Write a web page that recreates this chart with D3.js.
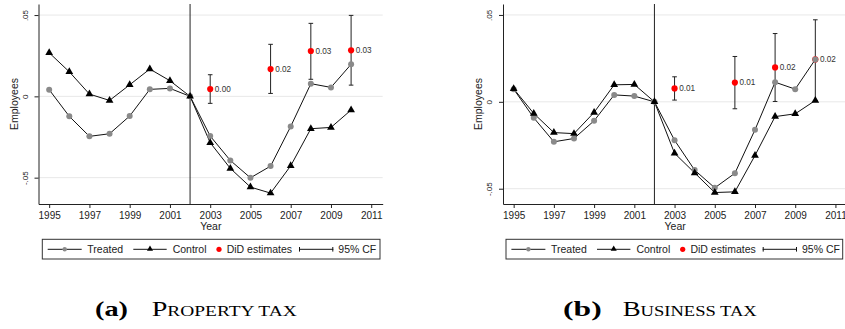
<!DOCTYPE html>
<html>
<head>
<meta charset="utf-8">
<script src="https://cdn.jsdelivr.net/npm/d3@7/dist/d3.min.js"></script>
<style>
  html, body { margin: 0; padding: 0; background: #fff; }
  svg { display: block; }
  text { font-family: "Liberation Sans", Arial, Helvetica, sans-serif; }
</style>
</head>
<body>
<svg id="chart" width="845" height="329"></svg>
<script>
// ---------------- DATA ----------------
const years = [1995, 1996, 1997, 1998, 1999, 2000, 2001, 2002, 2003, 2004, 2005, 2006, 2007, 2008, 2009, 2010];

// Panel (a) Property tax
const propTreated = [0.0041, -0.0123, -0.0246, -0.0230, -0.0121, 0.0043, 0.0049, 0, -0.0244, -0.0394, -0.0501, -0.0429, -0.0185, 0.0078, 0.0055, 0.0197];
const propControl = [0.0268, 0.0151, 0.0014, -0.0025, 0.0071, 0.0168, 0.0096, 0, -0.0285, -0.0443, -0.0558, -0.0595, -0.0427, -0.0199, -0.0191, -0.0084];

// Panel (b) Business tax
const busTreated = [0.0073, -0.0092, -0.0230, -0.0211, -0.0109, 0.0040, 0.0033, 0, -0.0221, -0.0393, -0.0495, -0.0411, -0.0161, 0.0113, 0.0073, 0.0244];
const busControl = [0.0075, -0.0067, -0.0177, -0.0183, -0.0061, 0.0098, 0.0100, 0, -0.0296, -0.0409, -0.0522, -0.0518, -0.0309, -0.0085, -0.0069, 0.0008];

// DiD estimates with 95% confidence bounds
const didYears = [2003, 2006, 2008, 2010];
const propDid = [0.0045, 0.0168, 0.0279, 0.0283];
const propLo = [-0.0043, 0.0018, 0.0105, 0.0069];
const propHi = [0.0133, 0.0320, 0.0449, 0.0498];
const propLabels = ["0.00", "0.02", "0.03", "0.03"];
const busDid = [0.0077, 0.0111, 0.0198, 0.0244];
const busLo = [0.0010, -0.0040, 0.0002, 0.0006];
const busHi = [0.0144, 0.0261, 0.0393, 0.0472];
const busLabels = ["0.01", "0.01", "0.02", "0.02"];

const treatmentYear = 2002;
const xTicks = [1995, 1997, 1999, 2001, 2003, 2005, 2007, 2009, 2011];
const yTicks = [-0.05, 0, 0.05];
const yTickLabels = ["-.05", "0", ".05"];
const legendLabels = ["Treated", "Control", "DiD estimates", "95% CF"];
const captionTags = ["(a)", "(b)"];
const captionTitles = [["P", "ROPERTY ", "TAX"], ["B", "USINESS ", "TAX"]];
const yTitle = "Employees";
const xTitle = "Year";

// ---------------- LAYOUT ----------------
const svg = d3.select("#chart");
const panels = [
  { treated: propTreated, control: propControl, did: propDid, lo: propLo, hi: propHi, labels: propLabels,
    x0: 38.5, x1: 382.7, yDom: [-0.0662, 0.0568], yTitleX: 18, legX: 42.3, legW: 337.7,
    tagX: 95, tagW: 33, titleX: 151.7, titleW: 145, tag: captionTags[0], title: captionTitles[0] },
  { treated: busTreated, control: busControl, did: busDid, lo: busLo, hi: busHi, labels: busLabels,
    x0: 503, x1: 846.9, yDom: [-0.0588, 0.0563], yTitleX: 482, legX: 506, legW: 336.7,
    tagX: 563, tagW: 38.7, titleX: 622.7, titleW: 134, tag: captionTags[1], title: captionTitles[1] }
];
const yTop = 4, yBot = 204;
const axisColor = "#222";
const treatedColor = "#8a8a8a";

panels.forEach(p => {
  const g = svg.append("g");
  const x = d3.scaleLinear().domain([1994.47, 2011.57]).range([p.x0, p.x1]);
  const y = d3.scaleLinear().domain(p.yDom).range([yBot, yTop]);

  // gridlines
  g.selectAll("line.grid").data(yTicks).join("line")
    .attr("x1", p.x0).attr("x2", p.x1)
    .attr("y1", d => y(d)).attr("y2", d => y(d))
    .attr("stroke", "#e8e8e8").attr("stroke-width", 1);

  // vertical treatment line
  g.append("line")
    .attr("x1", x(treatmentYear)).attr("x2", x(treatmentYear))
    .attr("y1", yTop).attr("y2", yBot)
    .attr("stroke", axisColor).attr("stroke-width", 1);

  // axes
  const xa = g.append("g").attr("transform", `translate(0,${yBot})`)
    .call(d3.axisBottom(x).tickValues(xTicks).tickFormat(d3.format("d")).tickSize(4).tickSizeOuter(0).tickPadding(4));
  xa.selectAll("text").attr("font-size", 10).attr("fill", "#222")
    .style("font-family", '"Liberation Sans", Arial, sans-serif');
  const ya = g.append("g").attr("transform", `translate(${p.x0},0)`)
    .call(d3.axisLeft(y).tickValues(yTicks).tickFormat((d, i) => yTickLabels[i]).tickSize(4).tickSizeOuter(0));
  ya.selectAll("text")
    .attr("x", 0).attr("y", -11).attr("dy", 0)
    .attr("transform", "rotate(-90)")
    .style("text-anchor", "middle")
    .attr("font-size", 8).attr("fill", "#222")
    .style("font-family", '"Liberation Sans", Arial, sans-serif');
  [xa, ya].forEach(a => {
    a.select(".domain").attr("stroke", axisColor);
    a.selectAll(".tick line").attr("stroke", axisColor);
  });

  // axis titles
  g.append("text").attr("x", (p.x0 + p.x1) / 2 + 0.2).attr("y", 230)
    .attr("text-anchor", "middle").attr("font-size", 10.5).attr("fill", "#222").text(xTitle);
  g.append("text").attr("transform", `translate(${p.yTitleX},${(yTop + yBot) / 2}) rotate(-90)`)
    .attr("text-anchor", "middle").attr("font-size", 10.5).attr("fill", "#222").text(yTitle);

  // confidence intervals
  const ci = g.selectAll("g.ci").data(didYears.map((yr, i) => ({ yr, lo: p.lo[i], hi: p.hi[i], v: p.did[i], lab: p.labels[i] })))
    .join("g");
  ci.append("line").attr("x1", d => x(d.yr)).attr("x2", d => x(d.yr))
    .attr("y1", d => y(d.lo)).attr("y2", d => y(d.hi)).attr("stroke", "#222").attr("stroke-width", 1);
  ci.append("line").attr("x1", d => x(d.yr) - 2.3).attr("x2", d => x(d.yr) + 2.3)
    .attr("y1", d => y(d.lo)).attr("y2", d => y(d.lo)).attr("stroke", "#222");
  ci.append("line").attr("x1", d => x(d.yr) - 2.3).attr("x2", d => x(d.yr) + 2.3)
    .attr("y1", d => y(d.hi)).attr("y2", d => y(d.hi)).attr("stroke", "#222");
  ci.append("circle").attr("cx", d => x(d.yr)).attr("cy", d => y(d.v)).attr("r", 3.1).attr("fill", "#ff0000");
  ci.append("text").attr("x", d => x(d.yr) + 4.6).attr("y", d => y(d.v)).attr("dy", "0.35em")
    .attr("font-size", 8.2).attr("fill", "#333").text(d => d.lab);

  // lines
  const line = d3.line().x((d, i) => x(years[i])).y(d => y(d));
  g.append("path").datum(p.treated).attr("d", line).attr("fill", "none").attr("stroke", "#111").attr("stroke-width", 1);
  g.append("path").datum(p.control).attr("d", line).attr("fill", "none").attr("stroke", "#111").attr("stroke-width", 1);

  // markers
  g.selectAll("circle.tr").data(p.treated).join("circle").attr("class", "tr")
    .attr("cx", (d, i) => x(years[i])).attr("cy", d => y(d)).attr("r", 3).attr("fill", treatedColor);
  const tri = d3.symbol().type(d3.symbolTriangle).size(26);
  g.selectAll("path.ct").data(p.control).join("path").attr("class", "ct")
    .attr("transform", (d, i) => `translate(${x(years[i])},${y(d)})`).attr("d", tri).attr("fill", "#000");

  // legend
  const L = g.append("g").attr("transform", `translate(${p.legX},239.3)`);
  L.append("rect").attr("x", 0).attr("y", 0).attr("width", p.legW).attr("height", 19.7)
    .attr("fill", "#fff").attr("stroke", "#333").attr("stroke-width", 1);
  const ly = 10;
  // treated
  L.append("line").attr("x1", 5.4).attr("x2", 39.4).attr("y1", ly).attr("y2", ly).attr("stroke", "#111");
  L.append("circle").attr("cx", 22.4).attr("cy", ly).attr("r", 2.2).attr("fill", treatedColor);
  L.append("text").attr("x", 45).attr("y", ly).attr("dy", "0.35em").attr("font-size", 10.5).attr("fill", "#222").text(legendLabels[0]);
  // control
  L.append("line").attr("x1", 91).attr("x2", 124.4).attr("y1", ly).attr("y2", ly).attr("stroke", "#111");
  L.append("path").attr("transform", `translate(107.7,${ly - 0.3})`).attr("d", d3.symbol().type(d3.symbolTriangle).size(16)).attr("fill", "#000");
  L.append("text").attr("x", 130.4).attr("y", ly).attr("dy", "0.35em").attr("font-size", 10.5).attr("fill", "#222").text(legendLabels[1]);
  // DiD
  L.append("circle").attr("cx", 176.7).attr("cy", ly).attr("r", 2.6).attr("fill", "#ff0000");
  L.append("text").attr("x", 184.4).attr("y", ly).attr("dy", "0.35em").attr("font-size", 10.5).attr("fill", "#222").text(legendLabels[2]);
  // CI
  L.append("line").attr("x1", 256.7).attr("x2", 291).attr("y1", ly).attr("y2", ly).attr("stroke", "#111");
  L.append("line").attr("x1", 257.2).attr("x2", 257.2).attr("y1", ly - 2.3).attr("y2", ly + 2.3).attr("stroke", "#111");
  L.append("line").attr("x1", 290.5).attr("x2", 290.5).attr("y1", ly - 2.3).attr("y2", ly + 2.3).attr("stroke", "#111");
  L.append("text").attr("x", 296).attr("y", ly).attr("dy", "0.35em").attr("font-size", 10.5).attr("fill", "#222").text(legendLabels[3]);

  // caption
  const serif = '"Liberation Serif", "DejaVu Serif", serif';
  svg.append("text").attr("x", p.tagX).attr("y", 316).attr("font-size", 21).attr("font-weight", "bold")
    .style("font-family", serif).attr("fill", "#000")
    .attr("textLength", p.tagW).attr("lengthAdjust", "spacingAndGlyphs").text(p.tag);
  const t = svg.append("text").attr("x", p.titleX).attr("y", 316)
    .style("font-family", serif).attr("fill", "#000")
    .attr("textLength", p.titleW).attr("lengthAdjust", "spacingAndGlyphs");
  t.append("tspan").attr("font-size", 21).text(p.title[0]);
  t.append("tspan").attr("font-size", 14.5).text(p.title[1]);
  t.append("tspan").attr("font-size", 14.5).text(p.title[2]);
});
</script>
</body>
</html>
